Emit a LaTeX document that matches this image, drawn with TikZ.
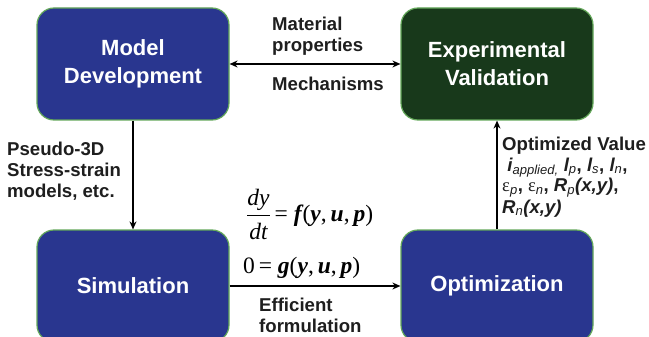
\documentclass[tikz,border=0pt]{standalone}
\usepackage{fontspec}
\setmainfont{Liberation Sans}
\newfontfamily\serif{Liberation Serif}
\usetikzlibrary{arrows.meta}
\definecolor{boxblue}{RGB}{41,54,143}
\definecolor{boxgreen}{RGB}{24,57,27}
\definecolor{edgegreen}{RGB}{100,168,90}
\definecolor{lbltext}{RGB}{30,30,30}
\tikzset{
  box/.style={draw=edgegreen, line width=1.2pt, rounded corners=17pt,
    minimum width=192pt, minimum height=112pt, inner sep=0pt, text=white,
    font=\fontsize{22}{28}\selectfont\bfseries, align=center},
  lbl/.style={inner sep=0pt, font=\fontsize{18.6}{21}\selectfont\bfseries,
    align=left, text=lbltext, anchor=base west},
  eqn/.style={inner sep=0pt, font=\fontsize{23.5}{28}\selectfont\serif,
    anchor=base west},
  conn/.style={line width=1.8pt, -{Stealth[length=8pt,width=7pt]}},
  dconn/.style={line width=1.8pt, {Stealth[length=8pt,width=7pt]}-{Stealth[length=8pt,width=7pt]}},
}
\newcommand{\bi}[1]{{\bfseries\itshape #1}}
\newcommand{\sbi}[1]{\textsubscript{\mdseries\itshape #1}}
\newcommand{\mb}[1]{{\bfseries\itshape #1}}
\begin{document}
\begin{tikzpicture}[x=1pt,y=-1pt]
\clip (0,0) rectangle (649,337);
\node[box, fill=boxblue] (md) at (133,64) {Model\\Development};
\node[box, fill=boxgreen] (ev) at (497,64) {Experimental\\Validation};
\node[box, fill=boxblue] (sim) at (133,286) {Simulation};
\node[box, fill=boxblue] (opt) at (497,286) {Optimization};

\draw[dconn] (md.east) -- (ev.west);
\draw[conn] (md.south) -- (sim.north);
\draw[conn] (sim.east) -- (opt.west);
\draw[conn] (opt.north) -- (ev.south);

\node[lbl] (mat) at (272,52) {Material\\properties};
\node[lbl] (mech) at (272,91) {Mechanisms};
\node[lbl] (pseudo) at (7,197) {Pseudo-3D\\Stress-strain\\models, etc.};
\node[lbl] (eff) at (259,332) {Efficient\\formulation};
\node[lbl] (optv) at (502,213) {Optimized Value\\
  \ \bi{i}\sbi{applied,} \bi{l}\sbi{p}, \bi{l}\sbi{s}, \bi{l}\sbi{n},\\
  {\serif\mdseries ε}\sbi{p}, {\serif\mdseries ε}\sbi{n}, \bi{R}\sbi{p}\bi{(x,y)},\\
  \bi{R}\sbi{n}\bi{(x,y)}};

\node[eqn] (eq1) at (246,222) {$\displaystyle{\hbox{\serif\itshape dy}\above0.8pt\hbox{\serif\itshape dt}}$\,= \mb{f}\kern1pt(\mb{y},\,\mb{u},\,\mb{p})};
\node[eqn] (eq2) at (243,273) {0\,= \mb{g}(\mb{y},\,\mb{u},\,\mb{p})};
\end{tikzpicture}
\end{document}
